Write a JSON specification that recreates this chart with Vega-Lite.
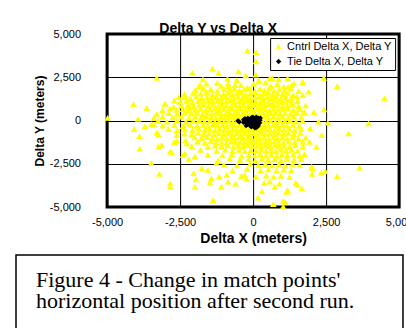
{
  "$schema": "https://vega.github.io/schema/vega-lite/v6.json",
  "background": "white",
  "padding": {"left": 15, "top": 22, "right": 4, "bottom": 0},
  "spacing": 7,
  "resolve": {"scale": {"color": "independent", "shape": "independent"}, "legend": {"color": "independent", "shape": "independent"}},
  "config": {
    "concat": {"spacing": 0},
    "view": {"stroke": "black", "strokeWidth": 3},
    "font": "Liberation Sans",
    "axis": {
      "labelFont": "Liberation Sans", "labelFontSize": 11, "labelColor": "black",
      "titleFont": "Liberation Sans", "titleColor": "black", "titleFontWeight": "bold",
      "grid": true, "gridColor": "black", "gridWidth": 1, "gridOpacity": 1,
      "ticks": false, "domain": false, "labelFlush": false, "labelOverlap": false
    },
    "legend": {
      "strokeColor": "black", "fillColor": "white", "padding": 3,
      "labelFont": "Liberation Sans", "labelFontSize": 11, "labelColor": "black",
      "symbolSize": 30, "symbolStrokeWidth": 0, "labelOffset": 3, "rowPadding": 3, "symbolOpacity": 1
    }
  },
  "vconcat": [
    {
      "title": {"text": "Delta Y vs Delta X", "font": "Liberation Sans", "fontSize": 14, "fontWeight": "bold", "color": "black", "anchor": "middle", "frame": "bounds", "offset": -8.2, "dx": 3},
      "spacing": 0.1,
      "resolve": {"scale": {"color": "independent", "shape": "independent"}, "legend": {"color": "independent", "shape": "independent"}},
      "hconcat": [
        {
          "width": 73,
          "height": 173,
          "view": {"stroke": null, "fill": "white"},
          "data": {"values": []},
          "mark": "point",
          "encoding": {
            "y": {"field": "y", "type": "quantitative",
              "scale": {"domain": [-5000, 5000], "nice": false, "zero": false},
              "axis": {"orient": "left", "offset": -73, "grid": false, "values": [-5000, -2500, 0, 2500, 5000], "labelExpr": "replace(format(datum.value, ','), '−', '-')", "title": "Delta Y (meters)", "titleFontSize": 12, "labelPadding": 8.5, "titleX": -46, "titleY": 86.5, "titleBaseline": "alphabetic"}}
          }
        },
        {
          "width": 292,
          "height": 173,
          "layer": [
            {
              "data": {"values": [
                {"x":-1850,"y":1990},{"x":-1600,"y":2130},{"x":-1450,"y":1800},{"x":-1230,"y":2180},{"x":-1100,"y":2000},{"x":-860,"y":2130},{"x":-840,"y":1990},{"x":-620,"y":2050},{"x":-420,"y":2050},{"x":-200,"y":1900},{"x":10,"y":2120},{"x":180,"y":2240},{"x":420,"y":2190},{"x":610,"y":2000},{"x":830,"y":2100},{"x":1050,"y":1950},{"x":1320,"y":2050},{"x":1700,"y":2190},{"x":1900,"y":1670},
                {"x":-1980,"y":1760},{"x":-1700,"y":1850},{"x":-1440,"y":1780},{"x":-1230,"y":1700},{"x":-1000,"y":1820},{"x":-800,"y":1760},{"x":-640,"y":1860},{"x":-470,"y":1720},{"x":-300,"y":1800},{"x":-120,"y":1850},{"x":60,"y":1700},{"x":230,"y":1830},{"x":380,"y":1750},{"x":560,"y":1880},{"x":720,"y":1700},{"x":900,"y":1800},{"x":1080,"y":1740},{"x":1300,"y":1850},{"x":1560,"y":1700},
                {"x":-2350,"y":1520},{"x":-2050,"y":1600},{"x":-1800,"y":1550},{"x":-1600,"y":1620},{"x":-1390,"y":1500},{"x":-1200,"y":1580},{"x":-1020,"y":1530},{"x":-860,"y":1610},{"x":-700,"y":1480},{"x":-560,"y":1570},{"x":-400,"y":1620},{"x":-250,"y":1500},{"x":-90,"y":1560},{"x":70,"y":1610},{"x":220,"y":1480},{"x":370,"y":1560},{"x":520,"y":1620},{"x":680,"y":1500},{"x":840,"y":1580},{"x":1010,"y":1520},{"x":1180,"y":1600},{"x":1370,"y":1470},{"x":1700,"y":1460},
                {"x":-2340,"y":1340},{"x":-2150,"y":1280},{"x":-1950,"y":1380},{"x":-1760,"y":1300},{"x":-1580,"y":1360},{"x":-1420,"y":1260},{"x":-1260,"y":1350},{"x":-1100,"y":1290},{"x":-950,"y":1380},{"x":-800,"y":1310},{"x":-660,"y":1250},{"x":-510,"y":1360},{"x":-370,"y":1300},{"x":-220,"y":1380},{"x":-80,"y":1270},{"x":60,"y":1340},{"x":200,"y":1400},{"x":350,"y":1280},{"x":500,"y":1350},{"x":650,"y":1300},{"x":800,"y":1380},{"x":960,"y":1270},{"x":1120,"y":1340},{"x":1300,"y":1290},{"x":1500,"y":1380},
                {"x":-2500,"y":1080},{"x":-2280,"y":1140},{"x":-2080,"y":1060},{"x":-1880,"y":1120},{"x":-1700,"y":1050},{"x":-1540,"y":1150},{"x":-1380,"y":1080},{"x":-1220,"y":1130},{"x":-1070,"y":1040},{"x":-920,"y":1110},{"x":-770,"y":1160},{"x":-630,"y":1050},{"x":-480,"y":1120},{"x":-340,"y":1070},{"x":-190,"y":1150},{"x":-50,"y":1040},{"x":90,"y":1110},{"x":240,"y":1060},{"x":380,"y":1150},{"x":530,"y":1080},{"x":680,"y":1020},{"x":830,"y":1130},{"x":990,"y":1070},{"x":1150,"y":1160},{"x":1330,"y":1050},{"x":1520,"y":1120},
                {"x":-4100,"y":940},{"x":-3010,"y":970},{"x":-2730,"y":780},{"x":-2450,"y":860},{"x":-2230,"y":900},{"x":-2040,"y":820},{"x":-1850,"y":880},{"x":-1680,"y":930},{"x":-1520,"y":840},{"x":-1360,"y":900},{"x":-1200,"y":820},{"x":-1050,"y":930},{"x":-900,"y":860},{"x":-750,"y":810},{"x":-600,"y":900},{"x":-460,"y":840},{"x":-310,"y":920},{"x":-170,"y":830},{"x":-30,"y":890},{"x":110,"y":950},{"x":260,"y":820},{"x":400,"y":880},{"x":550,"y":940},{"x":700,"y":840},{"x":850,"y":900},{"x":1010,"y":820},{"x":1170,"y":880},{"x":1350,"y":930},{"x":1560,"y":830},{"x":1800,"y":870},
                {"x":-3640,"y":720},{"x":-3300,"y":390},{"x":-3100,"y":600},{"x":-2850,"y":680},{"x":-2620,"y":610},{"x":-2400,"y":660},{"x":-2270,"y":590},{"x":-2180,"y":700},{"x":-1980,"y":620},{"x":-1800,"y":690},{"x":-1630,"y":580},{"x":-1470,"y":650},{"x":-1310,"y":700},{"x":-1160,"y":600},{"x":-1010,"y":670},{"x":-860,"y":590},{"x":-710,"y":680},{"x":-570,"y":620},{"x":-430,"y":700},{"x":-290,"y":600},{"x":-150,"y":650},{"x":-10,"y":580},{"x":130,"y":690},{"x":270,"y":620},{"x":410,"y":660},{"x":560,"y":590},{"x":710,"y":680},{"x":860,"y":610},{"x":1020,"y":660},{"x":1190,"y":700},{"x":1380,"y":600},{"x":1600,"y":660},{"x":1760,"y":490},{"x":2080,"y":490},{"x":2430,"y":650},
                {"x":-2890,"y":420},{"x":-2600,"y":380},{"x":-2350,"y":450},{"x":-2120,"y":400},{"x":-1920,"y":460},{"x":-1740,"y":370},{"x":-1570,"y":430},{"x":-1410,"y":380},{"x":-1250,"y":470},{"x":-1100,"y":400},{"x":-950,"y":360},{"x":-800,"y":440},{"x":-650,"y":390},{"x":-510,"y":450},{"x":-370,"y":380},{"x":-230,"y":440},{"x":-90,"y":360},{"x":50,"y":430},{"x":190,"y":390},{"x":330,"y":460},{"x":470,"y":370},{"x":620,"y":420},{"x":770,"y":460},{"x":930,"y":380},{"x":1100,"y":430},{"x":1280,"y":390},{"x":1500,"y":440},{"x":1720,"y":450},
                {"x":-3400,"y":150},{"x":-3100,"y":230},{"x":-2750,"y":180},{"x":-2450,"y":220},{"x":-2200,"y":140},{"x":-1980,"y":210},{"x":-1780,"y":160},{"x":-1600,"y":240},{"x":-1430,"y":180},{"x":-1270,"y":130},{"x":-1110,"y":220},{"x":-960,"y":170},{"x":-810,"y":230},{"x":-660,"y":150},{"x":-520,"y":210},{"x":-380,"y":160},{"x":-240,"y":230},{"x":-100,"y":140},{"x":40,"y":200},{"x":130,"y":250},{"x":230,"y":160},{"x":380,"y":220},{"x":530,"y":150},{"x":690,"y":230},{"x":850,"y":170},{"x":1020,"y":210},{"x":1200,"y":140},{"x":1400,"y":220},{"x":1650,"y":180},
                {"x":-4980,"y":150},{"x":-3940,"y":90},{"x":-3470,"y":-200},{"x":-3250,"y":-20},{"x":-2950,"y":-60},{"x":-2600,"y":10},{"x":-2300,"y":-80},{"x":-2050,"y":-30},{"x":-1850,"y":20},{"x":-1660,"y":-70},{"x":-1480,"y":-10},{"x":-1310,"y":-90},{"x":-1150,"y":-20},{"x":-990,"y":-60},{"x":-840,"y":10},{"x":-690,"y":-80},{"x":-550,"y":-30},{"x":-400,"y":20},{"x":-260,"y":-70},{"x":-120,"y":-20},{"x":20,"y":-90},{"x":160,"y":-30},{"x":300,"y":10},{"x":450,"y":-60},{"x":600,"y":-20},{"x":760,"y":-80},{"x":920,"y":0},{"x":1090,"y":-50},{"x":1270,"y":-10},{"x":1470,"y":-70},{"x":1700,"y":-30},{"x":2240,"y":-70},{"x":2560,"y":-130},{"x":3950,"y":-160},
                {"x":-3700,"y":-320},{"x":-3400,"y":-240},{"x":-3100,"y":-300},{"x":-2700,"y":-260},{"x":-2400,"y":-330},{"x":-2150,"y":-240},{"x":-1920,"y":-310},{"x":-1720,"y":-250},{"x":-1540,"y":-320},{"x":-1370,"y":-230},{"x":-1210,"y":-300},{"x":-1050,"y":-260},{"x":-900,"y":-340},{"x":-750,"y":-230},{"x":-600,"y":-290},{"x":-460,"y":-250},{"x":-320,"y":-330},{"x":-180,"y":-240},{"x":-40,"y":-300},{"x":100,"y":-260},{"x":240,"y":-330},{"x":380,"y":-230},{"x":530,"y":-290},{"x":680,"y":-250},{"x":840,"y":-320},{"x":1000,"y":-240},{"x":1170,"y":-300},{"x":1360,"y":-260},{"x":1580,"y":-310},
                {"x":-4070,"y":-500},{"x":-3300,"y":-700},{"x":-3240,"y":-820},{"x":-2900,"y":-480},{"x":-2600,"y":-550},{"x":-2330,"y":-500},{"x":-2080,"y":-560},{"x":-1860,"y":-470},{"x":-1660,"y":-540},{"x":-1480,"y":-500},{"x":-1310,"y":-570},{"x":-1150,"y":-480},{"x":-1000,"y":-530},{"x":-850,"y":-580},{"x":-700,"y":-470},{"x":-560,"y":-540},{"x":-420,"y":-490},{"x":-280,"y":-560},{"x":-140,"y":-480},{"x":0,"y":-540},{"x":140,"y":-500},{"x":280,"y":-570},{"x":430,"y":-480},{"x":580,"y":-530},{"x":730,"y":-590},{"x":890,"y":-490},{"x":1050,"y":-540},{"x":1230,"y":-480},{"x":1420,"y":-550},{"x":1650,"y":-500},{"x":1950,"y":-460},
                {"x":-3890,"y":-900},{"x":-2610,"y":-840},{"x":-2350,"y":-760},{"x":-2100,"y":-800},{"x":-1880,"y":-720},{"x":-1680,"y":-790},{"x":-1500,"y":-740},{"x":-1330,"y":-810},{"x":-1170,"y":-730},{"x":-1010,"y":-780},{"x":-860,"y":-720},{"x":-710,"y":-800},{"x":-570,"y":-750},{"x":-430,"y":-810},{"x":-290,"y":-730},{"x":-150,"y":-790},{"x":-10,"y":-740},{"x":130,"y":-800},{"x":270,"y":-720},{"x":420,"y":-780},{"x":570,"y":-740},{"x":720,"y":-810},{"x":880,"y":-730},{"x":1040,"y":-790},{"x":1210,"y":-750},{"x":1400,"y":-800},{"x":1620,"y":-720},{"x":2350,"y":-840},{"x":3270,"y":-740},
                {"x":-2310,"y":-1130},{"x":-2610,"y":-1170},{"x":-2000,"y":-980},{"x":-1780,"y":-1040},{"x":-1580,"y":-960},{"x":-1400,"y":-1020},{"x":-1230,"y":-1060},{"x":-1070,"y":-970},{"x":-910,"y":-1030},{"x":-760,"y":-980},{"x":-610,"y":-1050},{"x":-470,"y":-960},{"x":-330,"y":-1020},{"x":-190,"y":-990},{"x":-50,"y":-1060},{"x":90,"y":-970},{"x":230,"y":-1030},{"x":380,"y":-990},{"x":530,"y":-1050},{"x":680,"y":-960},{"x":840,"y":-1020},{"x":1000,"y":-990},{"x":1170,"y":-1060},{"x":1350,"y":-970},{"x":1560,"y":-1030},{"x":1800,"y":-990},{"x":1930,"y":-1230},
                {"x":-2700,"y":-1250},{"x":-2270,"y":-1320},{"x":-1900,"y":-1220},{"x":-1650,"y":-1280},{"x":-1450,"y":-1200},{"x":-1260,"y":-1270},{"x":-1080,"y":-1230},{"x":-910,"y":-1300},{"x":-750,"y":-1210},{"x":-600,"y":-1260},{"x":-450,"y":-1240},{"x":-300,"y":-1300},{"x":-160,"y":-1200},{"x":-20,"y":-1270},{"x":120,"y":-1220},{"x":270,"y":-1290},{"x":420,"y":-1230},{"x":570,"y":-1280},{"x":720,"y":-1200},{"x":880,"y":-1260},{"x":1050,"y":-1300},{"x":1230,"y":-1220},{"x":1430,"y":-1270},{"x":1700,"y":-1240},
                {"x":-3880,"y":-1630},{"x":-3240,"y":-1510},{"x":-3130,"y":-1420},{"x":-2100,"y":-1480},{"x":-1550,"y":-1520},{"x":-1300,"y":-1450},{"x":-1080,"y":-1500},{"x":-870,"y":-1440},{"x":-680,"y":-1530},{"x":-500,"y":-1460},{"x":-330,"y":-1510},{"x":-170,"y":-1430},{"x":-20,"y":-1500},{"x":130,"y":-1470},{"x":280,"y":-1530},{"x":430,"y":-1450},{"x":580,"y":-1500},{"x":740,"y":-1440},{"x":900,"y":-1520},{"x":1070,"y":-1460},{"x":1250,"y":-1510},{"x":1450,"y":-1440},{"x":1700,"y":-1500},{"x":2170,"y":-1530},
                {"x":-2840,"y":-1800},{"x":-2780,"y":-1850},{"x":-2330,"y":-1900},{"x":-1800,"y":-1700},{"x":-1250,"y":-1760},{"x":-950,"y":-1690},{"x":-700,"y":-1750},{"x":-480,"y":-1700},{"x":-280,"y":-1770},{"x":-80,"y":-1710},{"x":100,"y":-1760},{"x":270,"y":-1690},{"x":440,"y":-1750},{"x":610,"y":-1710},{"x":780,"y":-1770},{"x":950,"y":-1690},{"x":1130,"y":-1740},{"x":1320,"y":-1700},{"x":1520,"y":-1760},{"x":1760,"y":-1940},
                {"x":-2400,"y":-2000},{"x":-1990,"y":-2090},{"x":-1550,"y":-1980},{"x":-1050,"y":-2020},{"x":-720,"y":-1960},{"x":-400,"y":-2040},{"x":-150,"y":-1980},{"x":60,"y":-2010},{"x":250,"y":-1950},{"x":440,"y":-2030},{"x":620,"y":-1970},{"x":800,"y":-2040},{"x":980,"y":-1960},{"x":1170,"y":-2010},{"x":1380,"y":-1970},{"x":1600,"y":-2050},
                {"x":-2200,"y":-2250},{"x":-1200,"y":-2300},{"x":-800,"y":-2200},{"x":-450,"y":-2280},{"x":-150,"y":-2230},{"x":80,"y":-2300},{"x":300,"y":-2210},{"x":520,"y":-2270},{"x":740,"y":-2230},{"x":950,"y":-2300},{"x":1160,"y":-2210},{"x":1400,"y":-2280},{"x":1650,"y":-2240},{"x":2010,"y":-2670},
                {"x":-3490,"y":-2460},{"x":-1760,"y":-2770},{"x":-1260,"y":-2470},{"x":-1000,"y":-2550},{"x":-550,"y":-2600},{"x":-100,"y":-2500},{"x":180,"y":-2580},{"x":420,"y":-2520},{"x":650,"y":-2600},{"x":880,"y":-2530},{"x":1100,"y":-2590},{"x":1350,"y":-2510},{"x":1600,"y":-2570},{"x":2020,"y":-2760},{"x":2470,"y":-2920},{"x":3650,"y":-2730},
                {"x":-1550,"y":-2850},{"x":-700,"y":-2900},{"x":-200,"y":-2800},{"x":250,"y":-2880},{"x":520,"y":-2820},{"x":800,"y":-2900},{"x":1050,"y":-2840},{"x":1300,"y":-2890},{"x":2330,"y":-3020},{"x":2020,"y":-3090},{"x":2880,"y":-3210},{"x":-2040,"y":-3050},
                {"x":-3210,"y":-3090},{"x":-1960,"y":-3400},{"x":-1160,"y":-3250},{"x":-1430,"y":-3350},{"x":-900,"y":-3150},{"x":-400,"y":-3200},{"x":-290,"y":-3150},{"x":-230,"y":-3350},{"x":100,"y":-3250},{"x":450,"y":-3180},{"x":700,"y":-3260},{"x":950,"y":-3200},{"x":1250,"y":-3280},{"x":1460,"y":-3600},
                {"x":-2840,"y":-3630},{"x":-2840,"y":-3820},{"x":-1990,"y":-3830},{"x":-1480,"y":-3590},{"x":-1090,"y":-3830},{"x":-860,"y":-3540},{"x":-600,"y":-3650},{"x":380,"y":-3600},{"x":570,"y":-3540},{"x":740,"y":-3830},{"x":900,"y":-3650},{"x":1670,"y":-3920},{"x":1520,"y":-3700},{"x":1140,"y":-4120},
                {"x":-1370,"y":-4600},{"x":170,"y":-4460},{"x":690,"y":-4830},{"x":1030,"y":-4650},{"x":1090,"y":-4700},{"x":1030,"y":-4980},{"x":1180,"y":-4020},{"x":300,"y":-4100},
                {"x":-3300,"y":2460},{"x":-2080,"y":2760},{"x":-1815,"y":2040},{"x":-1390,"y":3000},{"x":-1190,"y":2760},{"x":-500,"y":2840},{"x":-250,"y":2610},{"x":-200,"y":4040},{"x":100,"y":3950},{"x":100,"y":3420},{"x":90,"y":2650},{"x":570,"y":2450},{"x":660,"y":2440},{"x":1180,"y":2440},{"x":1700,"y":2230},{"x":2420,"y":2460},{"x":2880,"y":1990},{"x":4500,"y":1300},{"x":-2330,"y":1360},{"x":-3020,"y":970},{"x":-880,"y":2400},{"x":-560,"y":2330},{"x":200,"y":2300},{"x":880,"y":2380},{"x":-1720,"y":2380},{"x":-2550,"y":1350},{"x":-2700,"y":1150},{"x":1400,"y":2150},{"x":1200,"y":1950}
              ]},
              "mark": {"type": "point", "filled": true, "opacity": 1, "size": 44},
              "encoding": {
                "x": {"field": "x", "type": "quantitative",
                  "scale": {"domain": [-5000, 5000], "nice": false, "zero": false},
                  "axis": {"values": [-5000, -2500, 0, 2500, 5000], "labelExpr": "replace(format(datum.value, ','), '−', '-')", "title": "Delta X (meters)", "titleFontSize": 14, "labelPadding": 9, "titlePadding": 4}},
                "y": {"field": "y", "type": "quantitative",
                  "scale": {"domain": [-5000, 5000], "nice": false, "zero": false},
                  "axis": {"orient": "right", "values": [-5000, -2500, 0, 2500, 5000], "labels": false, "title": null}},
                "color": {"datum": "Cntrl Delta X, Delta Y", "type": "nominal",
                  "scale": {"domain": ["Cntrl Delta X, Delta Y", "Tie Delta X, Delta Y"], "range": ["#ffff00", "#000010"]},
                  "legend": {"title": null, "orient": "top-right", "offset": 4}},
                "shape": {"datum": "Cntrl Delta X, Delta Y", "type": "nominal",
                  "scale": {"domain": ["Cntrl Delta X, Delta Y", "Tie Delta X, Delta Y"], "range": ["triangle-up", "diamond"]},
                  "legend": {"title": null, "orient": "top-right", "offset": 4}}
              }
            },
            {
              "data": {"values": [
                {"x":-500,"y":-50},{"x":-470,"y":-80},{"x":-520,"y":-20},
                {"x":-330,"y":40},{"x":-300,"y":-60},{"x":-280,"y":120},{"x":-250,"y":-150},{"x":-220,"y":30},{"x":-200,"y":-250},{"x":-180,"y":150},{"x":-160,"y":-80},{"x":-140,"y":60},{"x":-120,"y":-180},{"x":-100,"y":-320},{"x":-90,"y":100},{"x":-70,"y":-20},{"x":-50,"y":180},{"x":-40,"y":-120},{"x":-20,"y":-260},{"x":0,"y":50},{"x":20,"y":-60},{"x":40,"y":140},{"x":60,"y":-180},{"x":70,"y":0},{"x":90,"y":-320},{"x":100,"y":90},{"x":120,"y":-100},{"x":140,"y":30},{"x":160,"y":-220},{"x":170,"y":150},{"x":190,"y":-40},{"x":210,"y":80},{"x":230,"y":-150},{"x":240,"y":10},{"x":100,"y":-420},{"x":60,"y":-440},{"x":140,"y":-380},{"x":-60,"y":-380},{"x":-240,"y":-300},{"x":-330,"y":-120},{"x":250,"y":150},{"x":-10,"y":200},{"x":110,"y":200},{"x":180,"y":-300},{"x":30,"y":-350},{"x":-150,"y":-10}
              ]},
              "mark": {"type": "point", "filled": true, "opacity": 1, "size": 25},
              "encoding": {
                "x": {"field": "x", "type": "quantitative"},
                "y": {"field": "y", "type": "quantitative"},
                "color": {"datum": "Tie Delta X, Delta Y", "type": "nominal"},
                "shape": {"datum": "Tie Delta X, Delta Y", "type": "nominal"}
              }
            }
          ]
        }
      ]
    },
    {
      "width": 387,
      "height": 85,
      "view": {"stroke": "black", "strokeWidth": 1.5, "fill": "white"},
      "data": {"values": [
        {"line": 1, "text": "Figure 4 - Change in match points'"},
        {"line": 2, "text": "horizontal position after second run."}
      ]},
      "mark": {"type": "text", "align": "left", "baseline": "alphabetic", "font": "Liberation Serif", "fontSize": 22, "color": "black", "dx": -173.5},
      "encoding": {
        "y": {"field": "line", "type": "ordinal", "axis": null, "scale": {"type": "point", "range": [31.7, 53.3], "padding": 0}},
        "text": {"field": "text"}
      }
    }
  ]
}
